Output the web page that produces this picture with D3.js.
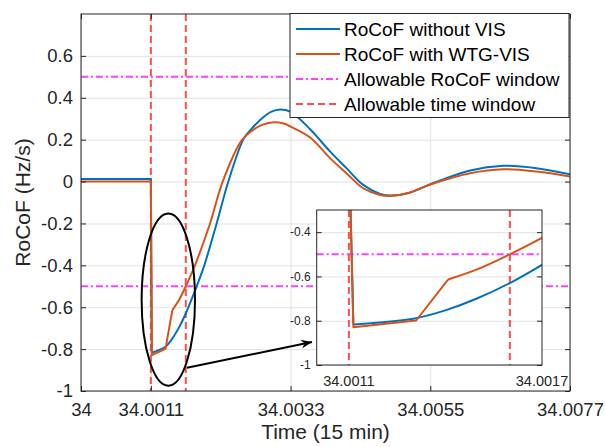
<!DOCTYPE html>
<html>
<head>
<meta charset="utf-8">
<script src="https://cdn.jsdelivr.net/npm/d3@7"></script>
<style>
body { margin: 0; background: #fff; }
svg { display: block; font-family: "Liberation Sans", Arial, Helvetica, sans-serif; }
</style>
</head>
<body>
<svg id="chart" width="605" height="447"></svg>
<script>
// time is kept in seconds after t = 34 (axis shows it in 15-min units, 1 s = 1/900)
const xTickSec = [0, 1, 3, 5, 7];
const xTickLabels = ["34", "34.0011", "34.0033", "34.0055", "34.0077"];
const yTicks = [-1, -0.8, -0.6, -0.4, -0.2, 0, 0.2, 0.4, 0.6];

const noVisT = [0, 1.0, 1.014, 1.204, 1.302, 1.396, 1.5, 1.601, 1.656, 1.765, 1.942, 2.109, 2.33, 2.45, 2.6, 2.72, 2.85, 3.0, 3.28, 3.564, 3.8, 4.04, 4.28, 4.45, 4.71, 5.0, 5.57, 6.045, 6.52, 7.0];
const noVisV = [0.012, 0.012, -0.817, -0.790, -0.752, -0.701, -0.630, -0.547, -0.500, -0.400, -0.200, 0.000, 0.205, 0.255, 0.305, 0.333, 0.344, 0.333, 0.250, 0.144, 0.064, -0.016, -0.059, -0.067, -0.053, -0.013, 0.053, 0.075, 0.064, 0.035];

const wtgVisT = [0, 1.0, 1.014, 1.209, 1.308, 1.402, 1.5, 1.601, 1.632, 1.847, 2.028, 2.30, 2.45, 2.6, 2.767, 2.9, 3.016, 3.28, 3.564, 3.8, 4.04, 4.28, 4.45, 4.71, 5.0, 5.57, 6.045, 6.52, 7.0];
const wtgVisV = [0, 0, -0.829, -0.799, -0.614, -0.566, -0.500, -0.425, -0.400, -0.200, 0.000, 0.197, 0.243, 0.272, 0.283, 0.277, 0.260, 0.210, 0.112, 0.040, -0.032, -0.064, -0.068, -0.052, -0.014, 0.040, 0.059, 0.048, 0.024];

const rocofLimits = [-0.5, 0.5];
const timeWindow = [1, 1.5];

const insetYTicks = [-1, -0.8, -0.6, -0.4];
const insetXTickSec = [1, 1.6];
const insetXTickLabels = ["34.0011", "34.0017"];

const legendLabels = ["RoCoF without VIS", "RoCoF with WTG-VIS", "Allowable RoCoF window", "Allowable time window"];

const BLUE = "#0072bd", ORANGE = "#d95319", MAGENTA = "#ff40ff", RED = "#ff4d4d", INK = "#262626", GRID = "#e2e2e2";

// points before smoothFrom are joined straight (step + kinks), the rest smoothly
const series = [
    {t: noVisT, v: noVisV, color: BLUE, smoothFrom: 2},
    {t: wtgVisT, v: wtgVisV, color: ORANGE, smoothFrom: 4}
];

let svg = d3.select("#chart");
let axL = 81, axR = 570, axT = 14, axB = 391;

let x = d3.scaleLinear().domain([0, 7]).range([axL, axR]);
let y = d3.scaleLinear().domain([-1, 0.8]).range([axB, axT]);

let defs = svg.append("defs");
defs.append("clipPath").attr("id", "mainClip")
    .append("rect").attr("x", axL).attr("y", axT).attr("width", axR - axL).attr("height", axB - axT);

let arrowhead = defs.append("marker")
    .attr("id", "arrowhead")
    .attr("viewBox", "-11 -6 12 12")
    .attr("markerWidth", 12).attr("markerHeight", 12)
    .attr("markerUnits", "userSpaceOnUse")
    .attr("refX", 0).attr("refY", 0)
    .attr("orient", "auto");
arrowhead.append("path").attr("d", "M0,0 L-11,-4.5 L-7.5,0 L-11,4.5 Z").attr("fill", "#000");

function curvePath(s, xs, ys) {
    let pts = d3.zip(s.t, s.v);
    let straight = d3.line().x(d => xs(d[0])).y(d => ys(d[1]));
    let smooth = d3.line().x(d => xs(d[0])).y(d => ys(d[1])).curve(d3.curveCatmullRom.alpha(0.5));
    return straight(pts.slice(0, s.smoothFrom + 1)) + smooth(pts.slice(s.smoothFrom));
}

// grid
svg.append("g").attr("transform", `translate(0,${axB})`)
    .call(d3.axisBottom(x).tickValues(xTickSec).tickSize(-(axB - axT)).tickFormat(""))
    .call(g => g.select(".domain").remove())
    .call(g => g.selectAll("line").attr("stroke", GRID));
svg.append("g").attr("transform", `translate(${axL},0)`)
    .call(d3.axisLeft(y).tickValues(yTicks).tickSize(-(axR - axL)).tickFormat(""))
    .call(g => g.select(".domain").remove())
    .call(g => g.selectAll("line").attr("stroke", GRID));

let plot = svg.append("g").attr("clip-path", "url(#mainClip)");

plot.selectAll("line.limit").data(rocofLimits).join("line")
    .attr("class", "limit")
    .attr("x1", axL).attr("x2", axR)
    .attr("y1", d => y(d)).attr("y2", d => y(d))
    .attr("stroke", MAGENTA).attr("stroke-width", 2).attr("stroke-dasharray", "7,3,2,3");

plot.selectAll("line.window").data(timeWindow).join("line")
    .attr("class", "window")
    .attr("x1", d => x(d)).attr("x2", d => x(d))
    .attr("y1", axT).attr("y2", axB)
    .attr("stroke", RED).attr("stroke-width", 2).attr("stroke-dasharray", "7,4");

plot.selectAll("path.series").data(series).join("path")
    .attr("class", "series")
    .attr("d", s => curvePath(s, x, y))
    .attr("fill", "none").attr("stroke", s => s.color).attr("stroke-width", 2)
    .attr("stroke-linejoin", "round");

// axes, ticks pointing inward on all four sides
let fontTick = 18.5;
svg.append("g").attr("transform", `translate(0,${axB})`)
    .call(d3.axisBottom(x).tickValues(xTickSec).tickSize(-5).tickPadding(12)
        .tickFormat((d, i) => xTickLabels[i]))
    .call(g => g.select(".domain").remove())
    .call(g => g.selectAll("line").attr("stroke", INK))
    .call(g => g.selectAll("text").attr("fill", INK).attr("font-size", fontTick).attr("font-family", null));
svg.append("g").attr("transform", `translate(${axL},0)`)
    .call(d3.axisLeft(y).tickValues(yTicks).tickSize(-5).tickPadding(8)
        .tickFormat(d => String(+d.toFixed(1))))
    .call(g => g.select(".domain").remove())
    .call(g => g.selectAll("line").attr("stroke", INK))
    .call(g => g.selectAll("text").attr("fill", INK).attr("font-size", fontTick).attr("font-family", null));
svg.append("g").attr("transform", `translate(0,${axT})`)
    .call(d3.axisTop(x).tickValues(xTickSec).tickSize(-5).tickFormat(""))
    .call(g => g.select(".domain").remove())
    .call(g => g.selectAll("line").attr("stroke", INK));
svg.append("g").attr("transform", `translate(${axR},0)`)
    .call(d3.axisRight(y).tickValues(yTicks).tickSize(-5).tickFormat(""))
    .call(g => g.select(".domain").remove())
    .call(g => g.selectAll("line").attr("stroke", INK));

svg.append("rect").attr("x", axL).attr("y", axT).attr("width", axR - axL).attr("height", axB - axT)
    .attr("fill", "none").attr("stroke", INK).attr("stroke-width", 1);

svg.append("text").attr("x", (axL + axR) / 2).attr("y", 439)
    .attr("text-anchor", "middle").attr("font-size", 21).attr("fill", INK)
    .text("Time (15 min)");
svg.append("text").attr("transform", `translate(30,${(axT + axB) / 2}) rotate(-90)`)
    .attr("text-anchor", "middle").attr("font-size", 21).attr("fill", INK)
    .text("RoCoF (Hz/s)");

// zoom annotation: ellipse round the dip and arrow to the inset
svg.append("ellipse")
    .attr("cx", x(1.25)).attr("cy", y(-0.564))
    .attr("rx", x(1.25 + 0.382) - x(1.25)).attr("ry", y(-0.564 - 0.411) - y(-0.564))
    .attr("fill", "none").attr("stroke", "#000").attr("stroke-width", 2);
svg.append("line")
    .attr("x1", x(1.517)).attr("y1", y(-0.889))
    .attr("x2", x(3.307)).attr("y2", y(-0.766))
    .attr("stroke", "#000").attr("stroke-width", 2)
    .attr("marker-end", "url(#arrowhead)");

// inset
let inL = 316.7, inR = 542, inT = 210, inB = 365;
let ix = d3.scaleLinear().domain([0.9, 1.6]).range([inL, inR]);
let iy = d3.scaleLinear().domain([-1, -0.3]).range([inB, inT]);

defs.append("clipPath").attr("id", "insetClip")
    .append("rect").attr("x", inL).attr("y", inT).attr("width", inR - inL).attr("height", inB - inT);

let inset = svg.append("g");
inset.append("rect").attr("x", inL).attr("y", inT).attr("width", inR - inL).attr("height", inB - inT)
    .attr("fill", "#fff");
inset.append("g").attr("transform", `translate(${inL},0)`)
    .call(d3.axisLeft(iy).tickValues(insetYTicks).tickSize(-(inR - inL)).tickFormat(""))
    .call(g => g.select(".domain").remove())
    .call(g => g.selectAll("line").attr("stroke", GRID));

let iplot = inset.append("g").attr("clip-path", "url(#insetClip)");
iplot.selectAll("line.limit").data(rocofLimits).join("line")
    .attr("class", "limit")
    .attr("x1", inL).attr("x2", inR)
    .attr("y1", d => iy(d)).attr("y2", d => iy(d))
    .attr("stroke", MAGENTA).attr("stroke-width", 2).attr("stroke-dasharray", "7,3,2,3");
iplot.selectAll("line.window").data(timeWindow).join("line")
    .attr("class", "window")
    .attr("x1", d => ix(d)).attr("x2", d => ix(d))
    .attr("y1", inT).attr("y2", inB)
    .attr("stroke", RED).attr("stroke-width", 2).attr("stroke-dasharray", "7,4");
iplot.selectAll("path.series").data(series).join("path")
    .attr("class", "series")
    .attr("d", s => curvePath(s, ix, iy))
    .attr("fill", "none").attr("stroke", s => s.color).attr("stroke-width", 2)
    .attr("stroke-linejoin", "round");

inset.append("g").attr("transform", `translate(${inL},0)`)
    .call(d3.axisLeft(iy).tickValues(insetYTicks).tickSize(-5).tickPadding(6)
        .tickFormat(d => String(+d.toFixed(1))))
    .call(g => g.select(".domain").remove())
    .call(g => g.selectAll("line").attr("stroke", INK))
    .call(g => g.selectAll("text").attr("fill", INK).attr("font-size", 12).attr("font-family", null));
inset.append("g").attr("transform", `translate(${inR},0)`)
    .call(d3.axisRight(iy).tickValues(insetYTicks).tickSize(-5).tickFormat(""))
    .call(g => g.select(".domain").remove())
    .call(g => g.selectAll("line").attr("stroke", INK));
inset.selectAll("text.ixlab").data(insetXTickSec).join("text")
    .attr("class", "ixlab")
    .attr("x", d => ix(d)).attr("y", inB + 21)
    .attr("text-anchor", "middle").attr("font-size", 14.5).attr("fill", INK)
    .text((d, i) => insetXTickLabels[i]);
inset.append("rect").attr("x", inL).attr("y", inT).attr("width", inR - inL).attr("height", inB - inT)
    .attr("fill", "none").attr("stroke", INK).attr("stroke-width", 1);

// legend
let legendStyles = [
    {color: BLUE, dash: null, width: 2},
    {color: ORANGE, dash: null, width: 2},
    {color: MAGENTA, dash: "7,3,2,3", width: 2},
    {color: RED, dash: "7,4", width: 2}
];
let lgX = 290, lgY = 13.5, lgW = 279, lgH = 104, rowH = 25;
let legend = svg.append("g");
legend.append("rect").attr("x", lgX).attr("y", lgY).attr("width", lgW).attr("height", lgH)
    .attr("fill", "#fff").attr("stroke", INK).attr("stroke-width", 1);
let rows = legend.selectAll("g.row").data(legendLabels).join("g")
    .attr("class", "row")
    .attr("transform", (d, i) => `translate(${lgX},${lgY + 15.5 + i * rowH})`);
rows.append("line").attr("x1", 6).attr("x2", 50).attr("y1", 0).attr("y2", 0)
    .attr("stroke", (d, i) => legendStyles[i].color)
    .attr("stroke-width", (d, i) => legendStyles[i].width)
    .attr("stroke-dasharray", (d, i) => legendStyles[i].dash);
rows.append("text").attr("x", 54).attr("y", 0).attr("dy", "0.35em")
    .attr("font-size", 19).attr("fill", "#000")
    .text(d => d);
</script>
</body>
</html>
